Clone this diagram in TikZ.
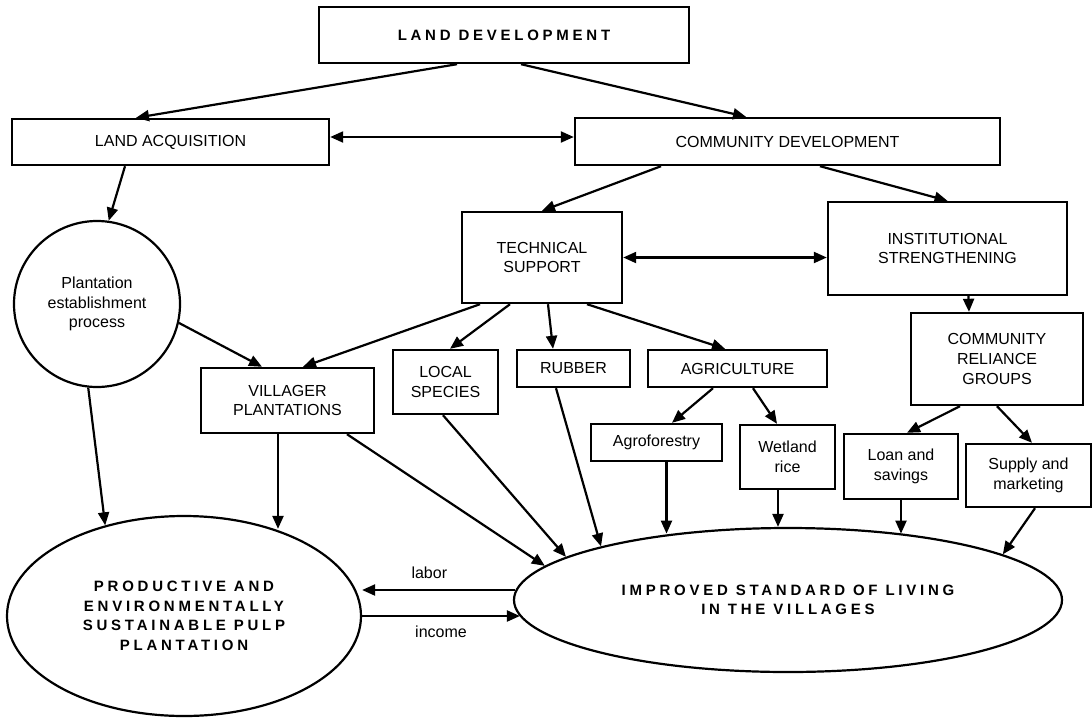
\documentclass[tikz,border=0pt]{standalone}
\usepackage{fontspec}
\setmainfont{Liberation Sans}
\newfontfamily\spacedfont[LetterSpace=25]{Liberation Sans}
\usetikzlibrary{shapes.geometric, arrows.meta, calc}
\newcommand{\normtext}{\fontsize{8}{9.8}\selectfont}
\newcommand{\widetext}{\spacedfont\bfseries\fontsize{7.5}{9.8}\selectfont}
\tikzset{
  box/.style={rectangle,draw,line width=1.2pt,align=center,inner sep=0pt,font=\normtext},
  circ/.style={circle,draw,line width=1.1pt,align=center,inner sep=0pt,minimum size=83pt,font=\normtext},
  oval/.style={ellipse,draw,line width=1.1pt,align=center,inner sep=0pt,font=\widetext},
  sz/.style 2 args={minimum width=#1*0.5pt,minimum height=#2*0.5pt},
  arrow/.style={-{Triangle[length=6.5pt,width=5.5pt]},line width=1.1pt},
  biarrow/.style={{Triangle[length=6.5pt,width=5.5pt]}-{Triangle[length=6.5pt,width=5.5pt]},line width=1.1pt},
  lbl/.style={inner sep=0pt,font=\normtext}
}

\begin{document}
\begin{tikzpicture}[x=0.5pt,y=-0.5pt]
  \useasboundingbox (0,0) rectangle (1092,718);

  % -- top levels --
  \node[box,sz={370}{56},font=\widetext] (ld) at (504,35) {LAND DEVELOPMENT};
  \node[box,sz={317}{46}] (la) at (170.5,142) {LAND ACQUISITION};
  \node[box,sz={425}{47}] (cd) at (787.5,141.5) {COMMUNITY DEVELOPMENT};

  % -- second level --
  \node[circ] (plant) at (97,304) {Plantation\\establishment\\process};
  \node[box,sz={160}{91}] (tech) at (542,257.5) {TECHNICAL\\SUPPORT};
  \node[box,sz={239}{93}] (inst) at (947.5,248.5) {INSTITUTIONAL\\STRENGTHENING};
  \node[box,sz={172}{92}] (crg) at (997,359) {COMMUNITY\\RELIANCE\\GROUPS};

  % -- activities --
  \node[box,sz={173}{65}] (vill) at (287.5,400.5) {VILLAGER\\PLANTATIONS};
  \node[box,sz={105}{64}] (local) at (445.5,382) {LOCAL\\SPECIES};
  \node[box,sz={113}{37}] (rubber) at (573.5,368.5) {RUBBER};
  \node[box,sz={179}{37}] (agri) at (737.5,368.5) {AGRICULTURE};
  \node[box,sz={131}{37}] (agrofor) at (656.5,442.5) {Agroforestry};
  \node[box,sz={95}{64}] (wetland) at (787.5,457) {Wetland\\rice};
  \node[box,sz={114}{65}] (loan) at (901,466.5) {Loan and\\savings};
  \node[box,sz={125}{63}] (supply) at (1028.5,475.5) {Supply and\\marketing};

  % -- outcomes --
  \node[oval,sz={354}{200}] (pulp) at (184,616)
    {PRODUCTIVE AND\\ENVIRONMENTALLY\\SUSTAINABLE PULP\\PLANTATION};
  \node[oval,sz={548}{144}] (living) at (788,600)
    {IMPROVED STANDARD OF LIVING\\IN THE VILLAGES};

  % -- connectors, upper part --
  \draw[arrow] ($(ld.south)+(-47,0)$) -- ($(la.north)+(-34.5,0)$);
  \draw[arrow] ($(ld.south)+(17,0)$) -- ($(cd.north)+(-41.5,0)$);
  \draw[biarrow] ($(la.east)+(0,-5)$) -- ($(cd.west)+(0,-4.5)$);
  \draw[arrow] ($(la.south)+(-45.5,0)$) -- (plant.82);
  \draw[arrow] ($(cd.south)+(-126.5,0)$) -- (tech.north);
  \draw[arrow] ($(cd.south)+(32.5,0)$) -- (inst.north);
  \draw[biarrow] (tech.east) -- (tech.east -| inst.west);
  \draw[arrow] ($(inst.south)+(21,0)$) -- ($(crg.north)+(-28,0)$);

  % -- connectors, middle part --
  \draw[arrow] (plant.347) -- ($(vill.north)+(-25.5,0)$);
  \draw[arrow] ($(tech.south)+(-62,0)$) -- ($(vill.north)+(15.5,0)$);
  \draw[arrow] ($(tech.south)+(-32,0)$) -- ($(local.north)+(4.5,0)$);
  \draw[arrow] ($(tech.south)+(6,0)$) -- ($(rubber.north)+(-20.5,0)$);
  \draw[arrow] ($(tech.south)+(45,0)$) -- ($(agri.north)+(-12.5,0)$);
  \draw[arrow] ($(agri.south)+(-24.5,0)$) -- ($(agrofor.north)+(15.5,0)$);
  \draw[arrow] ($(agri.south)+(15.5,0)$) -- ($(wetland.north)+(-10.5,0)$);
  \draw[arrow] ($(crg.south)+(-37,0)$) -- ($(loan.north)+(6,0)$);
  \draw[arrow] (crg.south) -- ($(supply.north)+(3.5,0)$);

  % -- into the pulp plantation --
  \coordinate (vp1) at ($(vill.south)+(-9.5,0)$);
  \draw[arrow] (plant.264) -- (pulp.131);
  \draw[arrow] (vp1) -- (vp1 |- pulp.44);

  % -- into the standard of living --
  \coordinate (ag1) at ($(agrofor.south)+(10,0)$);
  \coordinate (we1) at ($(wetland.south)+(-9.5,0)$);
  \draw[arrow] ($(vill.south)+(59.5,0)$) -- (living.172);
  \draw[arrow] ($(local.south)+(-2.5,0)$) -- (living.169);
  \draw[arrow] ($(rubber.south)+(-17.5,0)$) -- (living.164);
  \draw[arrow] (ag1) -- (ag1 |- living.150);
  \draw[arrow] (we1) -- (we1 |- living.north);
  \draw[arrow] (loan.south) -- (loan.south |- living.30);
  \draw[arrow] ($(supply.south)+(6.5,0)$) -- (living.12);

  % -- labor and income --
  \coordinate (lab) at ($(living.west)+(2,-10)$);
  \coordinate (inc) at ($(pulp.east -| living.west)+(7,0)$);
  \draw[arrow] (lab) -- (lab -| pulp.east) node[lbl,pos=0.56,above=5pt] {labor};
  \draw[arrow] (pulp.east) -- (inc) node[lbl,midway,below=4.5pt] {income};
\end{tikzpicture}
\end{document}
